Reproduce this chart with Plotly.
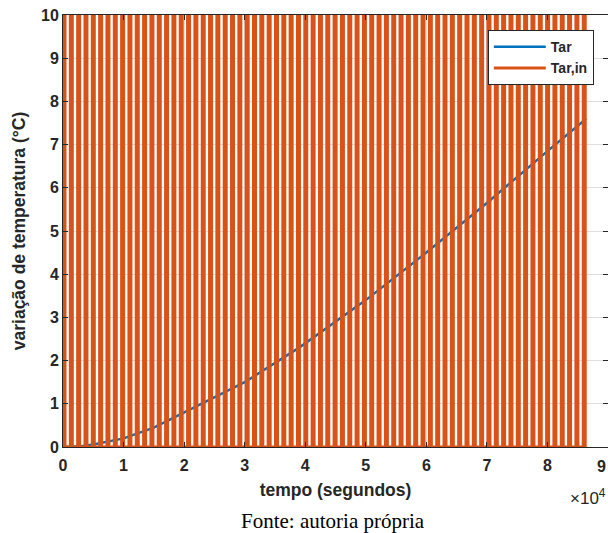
import plotly.graph_objects as go

# Tar: air temperature rise, read at selected instants (s, °C)
tar_t = [0, 3000, 5000, 10000, 15000, 20000, 30000, 39000, 46000, 50000,
         60000, 70000, 80000, 86400]
tar_v = [0.0, 0.02, 0.06, 0.2, 0.45, 0.8, 1.5, 2.3, 3.0, 3.4,
         4.5, 5.65, 6.85, 7.6]

# Tar,in: pulsed inlet signal, one cycle (offsets in s and values in °C)
cycle_dt = [0, 0, 330, 330]
cycle_v = [0, 10, 10, 0]
cycle_period = 1210
n_cycles = 72
end_time = 86400

tin_t, tin_v = [], []
for k in range(n_cycles):
    t0 = k * cycle_period
    tin_t += [t0 + d for d in cycle_dt]
    tin_v += cycle_v
tin_t.append(end_time)
tin_v.append(0)

x_ticks = [0, 10000, 20000, 30000, 40000, 50000, 60000, 70000, 80000]
x_labels = ["0", "1", "2", "3", "4", "5", "6", "7", "8"]
x_edge_label = "9"
y_ticks = list(range(0, 11))

BLUE = "#0072BD"
ORANGE = "#D95319"
INK = "#262626"
FONT = "Liberation Sans, Arial, sans-serif"

fig = go.Figure()
fig.add_trace(go.Scatter(x=tar_t, y=tar_v, mode="lines", name="Tar",
                         line=dict(color=BLUE, width=2.5)))
fig.add_trace(go.Scatter(x=tin_t, y=tin_v, mode="lines", name="Tar,in",
                         line=dict(color=ORANGE, width=3)))

axis_common = dict(
    showline=True, linecolor=INK, linewidth=1, mirror="allticks",
    ticks="inside", ticklen=5, tickcolor=INK, tickwidth=1,
    showgrid=True, gridcolor="#dedede", gridwidth=1, zeroline=False,
    tickfont=dict(family=FONT, size=16, color=INK, weight="bold"),
)

fig.update_layout(
    width=608, height=533,
    margin=dict(l=63, r=0, t=15, b=86),
    paper_bgcolor="white", plot_bgcolor="white",
    font=dict(family=FONT, color=INK),
    showlegend=True,
    legend=dict(
        x=0.974, y=0.965, xanchor="right", yanchor="top",
        bgcolor="white", bordercolor=INK, borderwidth=1,
        font=dict(family=FONT, size=14, color=INK, weight="bold"),
        itemwidth=52, tracegroupgap=0,
    ),
    xaxis=dict(
        range=[0, 90000], tickvals=x_ticks, ticktext=x_labels,
        ticklabelstandoff=4,
        title=dict(text="tempo (segundos)", standoff=10,
                   font=dict(family=FONT, size=17.5, color=INK, weight="bold")),
        **axis_common,
    ),
    yaxis=dict(
        range=[0, 10], tickvals=y_ticks,
        title=dict(text="variação de temperatura (°C)", standoff=10,
                   font=dict(family=FONT, size=17.5, color=INK, weight="bold")),
        **axis_common,
    ),
)

# last x tick label, kept inside the right edge
fig.add_annotation(x=1.0, y=0, xref="paper", yref="paper",
                   xanchor="right", yanchor="top", yshift=-9, showarrow=False,
                   text=x_edge_label,
                   font=dict(family=FONT, size=16, color=INK, weight="bold"))
# axis multiplier and source line
fig.add_annotation(x=1.0, y=0, xref="paper", yref="paper",
                   xanchor="right", yanchor="top", yshift=-37, showarrow=False,
                   text="×10<sup>4</sup>",
                   font=dict(family=FONT, size=17, color=INK))
fig.add_annotation(x=(333 - 63) / 545, y=0, xref="paper", yref="paper",
                   xanchor="center", yanchor="top", yshift=-60, showarrow=False,
                   text="Fonte: autoria própria",
                   font=dict(family="Liberation Serif, Times New Roman, serif",
                             size=21, color="black"))

fig.write_html("out.html")
